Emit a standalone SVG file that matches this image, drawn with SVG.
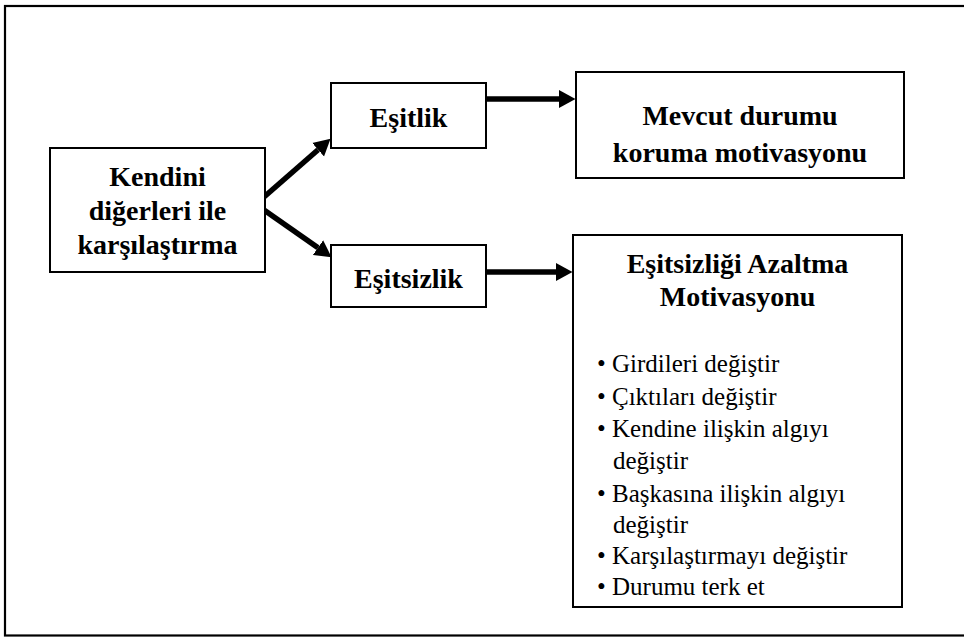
<svg xmlns="http://www.w3.org/2000/svg" width="964" height="637" viewBox="0 0 964 637">
<defs>
<style>
.box{fill:#fff;stroke:#000;stroke-width:2}
.b{font-weight:bold;font-size:28px;text-anchor:middle;fill:#000}
.r{font-size:25px;fill:#000}
.c{stroke:#000;stroke-width:5.5;fill:none;marker-end:url(#ah)}
</style>
<marker id="ah" markerUnits="userSpaceOnUse" markerWidth="17" markerHeight="19" refX="0" refY="9" orient="auto" viewBox="0 0 17 18">
<path d="M0,0 L16.5,9 L0,18 z" fill="#000"/>
</marker>
</defs>
<rect x="5" y="6" width="964" height="629.5" fill="#fff" stroke="#000" stroke-width="2.2"/>
<g id="connectors">
<line class="c" x1="264" y1="197" x2="318.1" y2="149.7"/>
<line class="c" x1="264" y1="210" x2="318" y2="247.7"/>
<line class="c" x1="486" y1="99" x2="559" y2="99"/>
<line class="c" x1="486" y1="272" x2="556" y2="272"/>
</g>
<g font-family="Liberation Serif, Times New Roman, serif">
<g id="kendini">
<rect class="box" x="50" y="148" width="215" height="124"/>
<text class="b" x="157.5" y="186">Kendini</text>
<text class="b" x="157.5" y="220">diğerleri ile</text>
<text class="b" x="157.5" y="254">karşılaştırma</text>
</g>
<g id="esitlik">
<rect class="box" x="331" y="83" width="155" height="65"/>
<text class="b" x="408.5" y="127">Eşitlik</text>
</g>
<g id="esitsizlik">
<rect class="box" x="331" y="245" width="155" height="62"/>
<text class="b" x="408.5" y="288">Eşitsizlik</text>
</g>
<g id="mevcut">
<rect class="box" x="576" y="72" width="328" height="106"/>
<text class="b" x="740" y="125">Mevcut durumu</text>
<text class="b" x="740" y="162">koruma motivasyonu</text>
</g>
<g id="azaltma">
<rect class="box" x="573" y="235" width="329" height="372"/>
<text class="b" x="737.5" y="273">Eşitsizliği Azaltma</text>
<text class="b" x="737.5" y="306">Motivasyonu</text>
<g class="r">
<text x="597" y="372">• Girdileri değiştir</text>
<text x="597" y="405">• Çıktıları değiştir</text>
<text x="597" y="437">• Kendine ilişkin algıyı</text>
<text x="613" y="469">değiştir</text>
<text x="597" y="502">• Başkasına ilişkin algıyı</text>
<text x="613" y="533">değiştir</text>
<text x="597" y="564">• Karşılaştırmayı değiştir</text>
<text x="597" y="595">• Durumu terk et</text>
</g>
</g>
</g>
</svg>
